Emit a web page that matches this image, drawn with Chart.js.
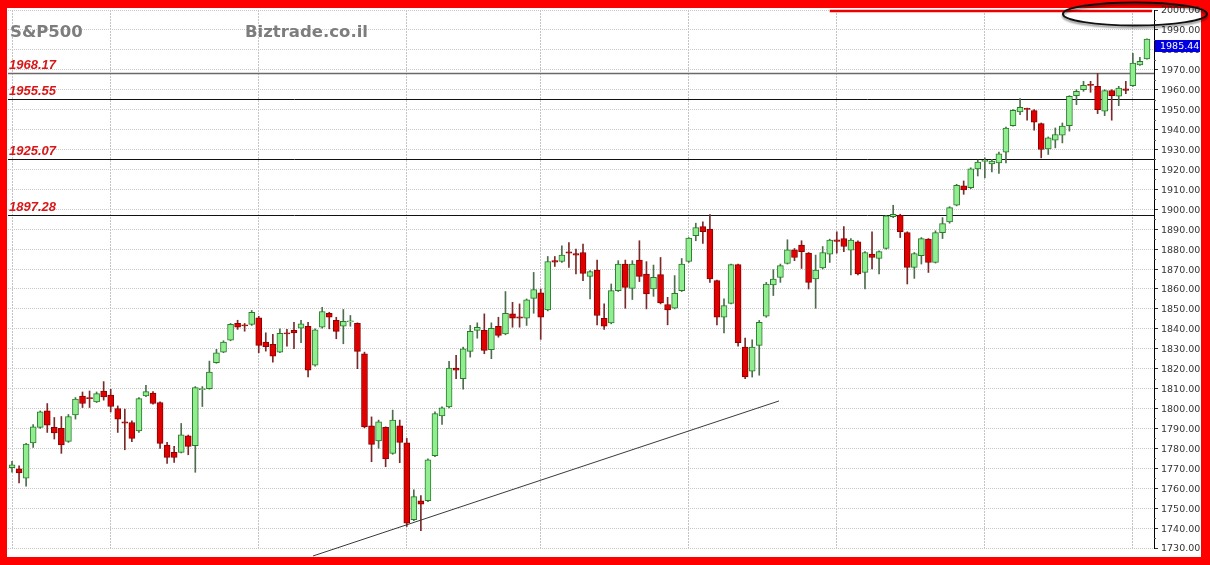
<!DOCTYPE html>
<html>
<head>
<meta charset="utf-8">
<script src="https://cdn.jsdelivr.net/npm/chart.js@4/dist/chart.umd.min.js"></script>
<style>
  html, body { margin: 0; padding: 0; overflow: hidden; background: #f00; }
  canvas { display: block; }
</style>
</head>
<body>
<canvas id="chart" width="1210" height="565"></canvas>
<script>
// S&P500 daily candles, Nov 2013 - 3 Jul 2014
const open = [
  1770.3, 1769.7, 1765.0, 1782.7, 1790.5, 1798.8, 1790.5, 1790.0, 1783.5, 1796.8,
  1806.3, 1805.5, 1803.3, 1808.8, 1806.7, 1800.0, 1793.3, 1793.0, 1788.8, 1806.3,
  1807.7, 1803.0, 1781.7, 1778.0, 1778.0, 1786.3, 1781.3, 1809.4, 1810.0, 1823.0,
  1828.3, 1834.3, 1842.7, 1842.0, 1842.2, 1845.5, 1833.3, 1832.2, 1828.3, 1838.0,
  1839.2, 1840.3, 1841.3, 1821.7, 1840.8, 1847.8, 1844.2, 1841.3, 1843.4, 1842.8,
  1827.5, 1791.3, 1783.7, 1790.5, 1777.5, 1791.3, 1782.8, 1744.2, 1753.7, 1753.7,
  1776.3, 1796.3, 1800.8, 1820.3, 1815.0, 1828.7, 1839.2, 1839.2, 1829.5, 1841.3,
  1837.5, 1847.5, 1846.0, 1845.3, 1855.3, 1858.0, 1849.5, 1874.2, 1873.8, 1878.6,
  1877.8, 1878.3, 1866.3, 1869.5, 1845.3, 1843.0, 1859.2, 1872.5, 1860.3, 1874.5,
  1867.5, 1860.0, 1867.2, 1852.2, 1850.3, 1859.2, 1873.8, 1886.7, 1891.3, 1890.0,
  1864.2, 1845.8, 1852.8, 1872.2, 1830.8, 1818.7, 1831.7, 1846.3, 1862.0, 1865.8,
  1872.8, 1879.7, 1882.0, 1878.0, 1865.0, 1870.5, 1877.5, 1884.7, 1885.3, 1879.5,
  1883.7, 1868.3, 1877.5, 1875.3, 1880.3, 1896.3, 1897.0, 1888.3, 1870.8, 1876.7,
  1885.0, 1873.3, 1888.3, 1893.7, 1902.0, 1911.7, 1910.8, 1920.3, 1924.0, 1922.8,
  1923.3, 1928.7, 1942.0, 1948.8, 1950.7, 1949.5, 1943.0, 1930.3, 1934.7, 1937.2,
  1942.0, 1957.0, 1960.0, 1962.7, 1961.7, 1949.2, 1959.5, 1956.7, 1960.5, 1962.0,
  1972.5, 1975.5
];
const high = [
  1773.5, 1771.3, 1782.5, 1792.0, 1798.8, 1802.5, 1795.5, 1796.0, 1797.0, 1805.5,
  1808.3, 1808.8, 1808.3, 1813.5, 1809.7, 1801.3, 1799.7, 1793.8, 1805.5, 1811.7,
  1808.5, 1803.3, 1783.0, 1781.0, 1792.5, 1786.7, 1811.0, 1811.0, 1823.8, 1829.7,
  1834.0, 1842.7, 1844.3, 1842.7, 1849.2, 1846.3, 1838.0, 1837.2, 1840.0, 1839.7,
  1843.3, 1844.2, 1843.3, 1840.0, 1850.8, 1848.3, 1845.8, 1849.7, 1846.7, 1843.0,
  1828.3, 1795.8, 1794.2, 1790.8, 1799.2, 1794.2, 1785.0, 1759.2, 1756.3, 1774.7,
  1798.3, 1800.8, 1823.7, 1826.7, 1830.8, 1841.7, 1843.0, 1847.5, 1843.0, 1845.8,
  1858.7, 1853.3, 1852.5, 1855.0, 1868.3, 1860.0, 1876.3, 1876.3, 1881.7, 1883.3,
  1880.0, 1882.5, 1869.2, 1874.5, 1852.5, 1862.5, 1874.2, 1874.5, 1874.2, 1884.2,
  1873.7, 1872.0, 1875.8, 1855.8, 1866.7, 1875.3, 1885.8, 1893.0, 1893.7, 1897.28,
  1864.5, 1855.0, 1872.5, 1872.5, 1835.3, 1834.5, 1844.2, 1863.3, 1869.7, 1872.5,
  1884.7, 1880.3, 1884.2, 1878.3, 1877.0, 1881.3, 1885.0, 1888.7, 1891.3, 1885.3,
  1884.2, 1878.7, 1888.7, 1879.2, 1897.0, 1902.0, 1897.5, 1888.7, 1878.3, 1885.8,
  1885.3, 1889.2, 1895.8, 1901.3, 1912.5, 1914.2, 1920.8, 1924.7, 1925.8, 1925.07,
  1928.7, 1941.3, 1950.0, 1955.55, 1950.8, 1950.0, 1943.3, 1936.3, 1940.8, 1943.3,
  1957.0, 1960.0, 1964.2, 1964.2, 1968.17, 1960.0, 1960.0, 1961.7, 1964.2, 1978.3,
  1976.3, 1985.5
];
const low = [
  1768.0, 1762.7, 1761.0, 1780.5, 1790.0, 1788.0, 1784.7, 1777.5, 1783.0, 1794.7,
  1800.5, 1800.5, 1803.0, 1804.2, 1798.3, 1788.0, 1779.3, 1783.3, 1788.0, 1806.0,
  1802.2, 1780.0, 1772.5, 1773.0, 1777.7, 1776.8, 1768.0, 1801.0, 1809.7, 1822.7,
  1828.0, 1834.0, 1839.7, 1838.8, 1841.7, 1828.0, 1828.8, 1823.3, 1828.0, 1831.3,
  1830.0, 1833.0, 1815.8, 1821.3, 1840.3, 1840.0, 1835.0, 1832.5, 1841.3, 1820.0,
  1790.3, 1773.3, 1780.0, 1770.8, 1777.0, 1772.8, 1740.8, 1743.7, 1738.7, 1753.3,
  1775.8, 1792.0, 1800.3, 1815.0, 1809.7, 1825.8, 1835.3, 1827.5, 1825.0, 1835.8,
  1837.0, 1840.8, 1840.8, 1841.7, 1847.8, 1834.7, 1849.0, 1871.3, 1873.3, 1870.8,
  1867.5, 1864.2, 1855.0, 1842.0, 1839.7, 1842.5, 1858.7, 1850.3, 1854.7, 1863.7,
  1850.0, 1856.3, 1852.5, 1842.0, 1850.0, 1858.7, 1873.3, 1884.2, 1882.8, 1863.3,
  1842.0, 1838.0, 1852.5, 1831.3, 1815.0, 1815.8, 1816.7, 1845.8, 1856.7, 1863.3,
  1872.5, 1874.2, 1870.3, 1860.0, 1850.3, 1870.0, 1873.3, 1878.0, 1878.7, 1867.0,
  1867.0, 1860.0, 1870.0, 1867.5, 1880.0, 1895.8, 1885.8, 1862.5, 1865.3, 1872.5,
  1868.3, 1873.0, 1885.3, 1893.0, 1901.7, 1907.5, 1910.3, 1916.7, 1915.8, 1918.7,
  1918.0, 1923.3, 1941.7, 1947.5, 1944.7, 1939.7, 1925.8, 1927.5, 1930.8, 1933.3,
  1939.2, 1952.5, 1959.2, 1958.7, 1948.0, 1947.0, 1944.7, 1952.0, 1958.0, 1961.7,
  1972.2, 1975.3
];
const close = [
  1771.8, 1767.7, 1782.2, 1790.8, 1798.3, 1791.7, 1787.7, 1781.7, 1796.0, 1804.7,
  1802.5, 1804.9, 1807.5, 1805.8, 1801.0, 1794.7, 1792.7, 1785.0, 1805.0, 1808.5,
  1802.5, 1782.5, 1775.5, 1775.5, 1786.8, 1781.0, 1810.5, 1810.0, 1818.3, 1828.0,
  1833.3, 1842.2, 1840.8, 1841.4, 1848.3, 1831.7, 1831.0, 1826.3, 1837.7, 1837.4,
  1838.0, 1842.5, 1819.2, 1839.5, 1848.7, 1845.8, 1838.7, 1843.8, 1844.0, 1828.7,
  1790.8, 1782.0, 1793.3, 1774.7, 1794.2, 1783.0, 1742.5, 1755.8, 1752.0, 1774.2,
  1797.5, 1800.3, 1820.3, 1819.2, 1830.0, 1838.8, 1840.8, 1829.2, 1840.3, 1836.7,
  1847.8, 1845.3, 1845.4, 1854.5, 1859.7, 1845.8, 1873.8, 1873.5, 1877.0, 1878.0,
  1877.0, 1867.8, 1868.7, 1846.7, 1841.3, 1859.2, 1872.5, 1860.8, 1872.5, 1866.3,
  1857.5, 1865.8, 1853.0, 1849.5, 1857.8, 1872.5, 1885.5, 1890.8, 1888.8, 1865.0,
  1845.8, 1851.7, 1872.2, 1833.0, 1815.8, 1830.8, 1843.3, 1862.5, 1865.0, 1871.7,
  1879.7, 1875.8, 1878.7, 1863.3, 1869.5, 1878.3, 1884.5, 1883.8, 1881.3, 1884.5,
  1867.5, 1878.3, 1875.8, 1878.7, 1896.7, 1897.5, 1888.8, 1870.8, 1877.8, 1885.3,
  1873.3, 1888.3, 1892.8, 1900.8, 1912.0, 1909.7, 1920.3, 1923.7, 1924.6, 1924.2,
  1927.8, 1940.8, 1949.7, 1951.2, 1950.1, 1943.7, 1930.0, 1935.8, 1937.5, 1941.7,
  1956.7, 1959.2, 1962.2, 1962.1, 1950.0, 1959.5, 1957.0, 1960.8, 1959.7, 1973.3,
  1974.2, 1985.44
];

// first trading day of each month (plus first bar) -> vertical grid lines
const monthStarts = [0, 14, 35, 56, 75, 96, 117, 138, 159];
// horizontal resistance levels
const levels = [1968.17, 1955.55, 1925.07, 1897.28];
// hand drawn marks, in bar index / price units
const trendLine = [[42.7, 1726], [108.8, 1803.8]];
const capLine = [116, 1999.5];
const circleMark = { x: 159.3, y: 1998, rx: 72, ry: 11.5 };

const GREEN = '#90ee90', GREEN_EDGE = '#2a7a2a', GREEN_WICK = '#4e6e4e';
const RED = '#e00000', RED_EDGE = '#8b0000', RED_WICK = '#7a2a2a';

const isUp = (i) => close[i] >= open[i];

const bodies = close.map((c, i) => {
  let a = Math.min(open[i], c), b = Math.max(open[i], c);
  if (b - a < 0.6) { const m = (a + b) / 2; a = m - 0.3; b = m + 0.3; }
  return { x: i, y: [a, b] };
});
const wicks = close.map((c, i) => ({ x: i, y: [low[i], high[i]] }));

const FONT = "'DejaVu Sans', Verdana, sans-serif";

const decor = {
  id: 'decor',
  beforeDraw(chart) {
    const c = chart.ctx;
    c.save();
    c.fillStyle = '#ff0000';
    c.fillRect(0, 0, chart.width, chart.height);
    c.fillStyle = '#fff';
    c.fillRect(7, 8, 1194, 549);
    c.restore();
  },
  beforeDatasetsDraw(chart) {
    const c = chart.ctx, ca = chart.chartArea, y = chart.scales.y;
    c.save();
    levels.forEach((v, k) => {
      const py = Math.round(y.getPixelForValue(v)) + 0.5;
      c.strokeStyle = k === 0 ? '#6a6a6a' : '#111';
      c.lineWidth = k === 0 ? 1.6 : 1;
      c.beginPath();
      c.moveTo(ca.left, py);
      c.lineTo(ca.right, py);
      c.stroke();
    });
    c.restore();
  },
  afterDatasetsDraw(chart) {
    const c = chart.ctx, ca = chart.chartArea, x = chart.scales.x, y = chart.scales.y;
    c.save();
    // level labels
    c.font = "bold italic 13px 'Liberation Sans', Arial, sans-serif";
    c.fillStyle = '#d81818';
    c.textBaseline = 'alphabetic';
    levels.forEach((v) => {
      c.fillText(v.toFixed(2), 9, y.getPixelForValue(v) - 4);
    });
    // titles
    c.font = 'bold 16.5px ' + FONT;
    c.fillStyle = '#7d7d7d';
    c.fillText('S&P500', 10, 37);
    c.fillText('Biztrade.co.il', 245, 37);
    // trend line
    c.strokeStyle = '#3a3a3a';
    c.lineWidth = 1;
    c.beginPath();
    c.moveTo(x.getPixelForValue(trendLine[0][0]), y.getPixelForValue(trendLine[0][1]));
    c.lineTo(x.getPixelForValue(trendLine[1][0]), y.getPixelForValue(trendLine[1][1]));
    c.stroke();
    // red line at the top
    c.strokeStyle = '#ee0000';
    c.lineWidth = 2.5;
    c.beginPath();
    const cy = y.getPixelForValue(capLine[1]);
    c.moveTo(x.getPixelForValue(capLine[0]), cy);
    c.lineTo(ca.right - 2, cy);
    c.stroke();
    c.restore();
  },
  afterDraw(chart) {
    const c = chart.ctx, ca = chart.chartArea, x = chart.scales.x, y = chart.scales.y;
    c.save();
    // minor ticks on the price axis
    c.strokeStyle = '#555';
    c.lineWidth = 1;
    for (let v = 1735; v < 2000; v += 10) {
      const py = Math.round(y.getPixelForValue(v)) + 0.5;
      c.beginPath();
      c.moveTo(ca.right, py);
      c.lineTo(ca.right + 2, py);
      c.stroke();
    }
    // last price tag
    const last = close[close.length - 1];
    const ty = Math.round(y.getPixelForValue(last)) + 1;
    c.fillStyle = '#0000e0';
    c.fillRect(ca.right + 1, ty, 45, 12);
    c.fillStyle = '#fff';
    c.font = '9.5px ' + FONT;
    c.textBaseline = 'middle';
    c.fillText(last.toFixed(2), ca.right + 6, ty + 6.5);
    // ellipse
    c.shadowColor = 'rgba(0,0,0,0.45)';
    c.shadowBlur = 2;
    c.shadowOffsetY = 2;
    c.strokeStyle = '#111';
    c.lineWidth = 2;
    c.beginPath();
    c.ellipse(x.getPixelForValue(circleMark.x), y.getPixelForValue(circleMark.y),
      circleMark.rx, circleMark.ry, 0, 0, Math.PI * 2);
    c.stroke();
    c.restore();
  }
};

new Chart(document.getElementById('chart'), {
  type: 'bar',
  data: {
    datasets: [
      {
        data: bodies,
        grouped: false,
        barThickness: 6,
        borderWidth: 1,
        borderSkipped: false,
        backgroundColor: (ctx) => isUp(ctx.dataIndex) ? GREEN : RED,
        borderColor: (ctx) => isUp(ctx.dataIndex) ? GREEN_EDGE : RED_EDGE
      },
      {
        data: wicks,
        grouped: false,
        barThickness: 1,
        borderWidth: 0,
        backgroundColor: (ctx) => isUp(ctx.dataIndex) ? GREEN_WICK : RED_WICK
      }
    ]
  },
  plugins: [decor],
  options: {
    responsive: false,
    animation: false,
    events: [],
    layout: { padding: { left: 8, top: 10, right: 9, bottom: 17 } },
    plugins: { legend: { display: false }, tooltip: { enabled: false } },
    scales: {
      x: {
        type: 'linear',
        min: -0.57,
        max: 162,
        offset: false,
        afterBuildTicks: (s) => { s.ticks = monthStarts.map(v => ({ value: v })); },
        afterFit: (s) => { s.height = 0; },
        ticks: { display: false },
        grid: { color: '#c4c4c4', drawTicks: false, offset: false },
        border: { display: false, dash: [2, 1] }
      },
      y: {
        position: 'right',
        min: 1730,
        max: 2000,
        afterFit: (s) => { s.width = 47; },
        ticks: {
          stepSize: 10,
          padding: 3,
          labelOffset: 1,
          color: '#333',
          font: { family: FONT, size: 9.5 },
          callback: (v) => Number(v).toFixed(2)
        },
        grid: { color: '#c8c8c8', tickColor: '#333', tickLength: 4 },
        border: { display: true, color: '#000', width: 1, dash: [1, 1] }
      }
    }
  }
});
</script>
</body>
</html>
